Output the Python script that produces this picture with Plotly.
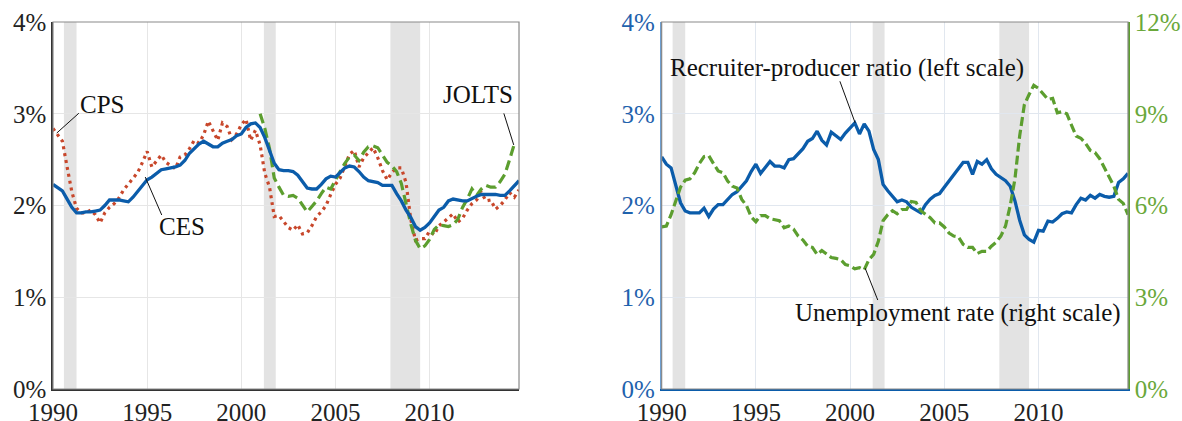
import plotly.graph_objects as go

# ---------------- data (quarterly, 1990Q1 .. 2014Q4) ----------------
quarters = [1990 + i / 4 for i in range(100)]

ces = [2.23, 2.19, 2.16, 2.07, 1.98, 1.92, 1.92, 1.93, 1.93, 1.94, 1.95, 2.00,
       2.06, 2.06, 2.06, 2.05, 2.04, 2.09, 2.15, 2.22, 2.28, 2.31, 2.35, 2.39,
       2.40, 2.41, 2.42, 2.44, 2.49, 2.57, 2.62, 2.67, 2.70, 2.67, 2.64, 2.64,
       2.68, 2.70, 2.72, 2.76, 2.78, 2.85, 2.89, 2.90, 2.85, 2.74, 2.60, 2.46,
       2.39, 2.38, 2.38, 2.37, 2.33, 2.26, 2.19, 2.18, 2.18, 2.23, 2.29, 2.32,
       2.31, 2.36, 2.41, 2.43, 2.42, 2.37, 2.31, 2.27, 2.26, 2.25, 2.22, 2.22,
       2.22, 2.13, 2.05, 1.95, 1.87, 1.77, 1.73, 1.76, 1.81, 1.88, 1.95, 1.98,
       2.05, 2.07, 2.06, 2.05, 2.05, 2.08, 2.10, 2.12, 2.12, 2.12, 2.12, 2.11,
       2.11, 2.16, 2.22, 2.27]

cps = [2.84, 2.77, 2.70, 2.42, 2.15, 1.97, 1.92, 1.92, 1.95, 1.90, 1.81, 1.92,
       1.98, 2.02, 2.08, 2.17, 2.23, 2.29, 2.36, 2.47, 2.59, 2.42, 2.48, 2.55,
       2.47, 2.43, 2.40, 2.53, 2.55, 2.62, 2.71, 2.68, 2.77, 2.92, 2.82, 2.71,
       2.90, 2.86, 2.72, 2.78, 2.88, 2.94, 2.71, 2.82, 2.66, 2.35, 2.20, 1.88,
       1.89, 1.82, 1.76, 1.73, 1.79, 1.69, 1.70, 1.78, 1.88, 1.93, 2.00, 2.12,
       2.23, 2.30, 2.42, 2.56, 2.60, 2.42, 2.52, 2.58, 2.63, 2.52, 2.38, 2.28,
       2.36, 2.41, 2.41, 2.25, 1.85, 1.62, 1.64, 1.64, 1.72, 1.68, 1.78, 1.82,
       1.87, 1.91, 1.82, 1.86, 1.95, 2.02, 2.06, 2.14, 2.05, 2.06, 1.96, 2.00,
       2.06, 2.14, 2.09, 2.17]

jolts_quarters = [2001 + i / 4 for i in range(55)]
jolts = [3.00, 2.84, 2.62, 2.30, 2.20, 2.11, 2.10, 2.11, 2.08, 2.01, 1.93, 1.99,
         2.05, 2.13, 2.20, 2.18, 2.28, 2.37, 2.46, 2.53, 2.55, 2.49, 2.58, 2.64,
         2.65, 2.63, 2.55, 2.47, 2.43, 2.37, 2.24, 2.02, 1.80, 1.62, 1.53, 1.56,
         1.63, 1.74, 1.79, 1.78, 1.77, 1.79, 1.85, 1.98, 2.07, 2.18, 2.11, 2.18,
         2.22, 2.20, 2.20, 2.26, 2.34, 2.50, 2.67]

recruiter = [2.53, 2.45, 2.41, 2.22, 2.03, 1.94, 1.92, 1.92, 1.92, 1.97, 1.88, 1.96,
             2.01, 2.01, 2.06, 2.12, 2.15, 2.21, 2.27, 2.37, 2.45, 2.35, 2.41, 2.48,
             2.43, 2.43, 2.41, 2.50, 2.51, 2.56, 2.62, 2.70, 2.73, 2.81, 2.71, 2.66,
             2.80, 2.76, 2.72, 2.79, 2.84, 2.90, 2.78, 2.89, 2.81, 2.61, 2.50, 2.23,
             2.16, 2.10, 2.04, 2.06, 2.04, 1.98, 1.95, 1.92, 2.01, 2.07, 2.11, 2.13,
             2.20, 2.27, 2.34, 2.40, 2.47, 2.47, 2.34, 2.48, 2.45, 2.50, 2.40, 2.34,
             2.30, 2.27, 2.21, 2.05, 1.84, 1.68, 1.63, 1.60, 1.73, 1.72, 1.83, 1.82,
             1.86, 1.91, 1.93, 1.92, 2.01, 2.08, 2.06, 2.11, 2.08, 2.12, 2.10, 2.09,
             2.10, 2.25, 2.29, 2.35]

unemployment = [5.30, 5.33, 5.70, 6.13, 6.60, 6.83, 6.87, 7.07, 7.37, 7.60, 7.63, 7.37,
                7.13, 7.07, 6.80, 6.63, 6.57, 6.20, 6.00, 5.63, 5.47, 5.67, 5.67, 5.57,
                5.53, 5.50, 5.27, 5.33, 5.23, 5.00, 4.87, 4.67, 4.63, 4.40, 4.53, 4.43,
                4.30, 4.27, 4.23, 4.07, 4.03, 3.93, 3.97, 3.90, 4.23, 4.40, 4.83, 5.50,
                5.70, 5.83, 5.73, 5.87, 5.87, 6.13, 6.10, 5.83, 5.70, 5.60, 5.43, 5.43,
                5.30, 5.10, 5.00, 4.97, 4.73, 4.63, 4.63, 4.43, 4.50, 4.50, 4.67, 4.80,
                5.00, 5.33, 6.00, 6.87, 8.27, 9.30, 9.63, 9.93, 9.83, 9.63, 9.47, 9.50,
                9.03, 9.07, 9.00, 8.63, 8.27, 8.20, 8.03, 7.80, 7.73, 7.53, 7.23, 6.93,
                6.63, 6.20, 6.07, 5.70]

recessions = [(1990.58, 1991.25), (2001.2, 2001.83), (2007.92, 2009.5)]

x_ticks = [1990, 1995, 2000, 2005, 2010]
x_ticktext = ["1990", "1995", "2000", "2005", "2010"]
left_ticks = [0, 1, 2, 3, 4]
left_ticktext = ["0%", "1%", "2%", "3%", "4%"]
right_ticks = [0, 3, 6, 9, 12]
right_ticktext = ["0%", "3%", "6%", "9%", "12%"]

# label texts (anchor positions in data coords) and leader lines (tail -> tip)
labels = [
    # text, xref, yref, x, y
    ("CPS", "x", "y", 1992.59, 3.10),
    ("CES", "x", "y", 1996.86, 1.77),
    ("JOLTS", "x", "y", 2012.57, 3.21),
    ("Recruiter-producer ratio (left scale)", "x2", "y3", 1999.82, 3.50),
    ("Unemployment rate (right scale)", "x2", "y3", 2005.71, 0.826),
]
leaders = [
    # xref, yref, tail_x, tail_y, tip_x, tip_y
    ("x", "y", 1991.45, 3.02, 1990.2, 2.79),
    ("x", "y", 1995.81, 1.88, 1994.9, 2.31),
    ("x", "y", 2013.92, 3.02, 2014.47, 2.66),
    ("x2", "y3", 1999.43, 3.37, 2000.27, 2.90),
    ("x2", "y4", 2001.50, 2.86, 2000.80, 3.95),
]

# ---------------- styling ----------------
BLUE = "#0b5caa"
RED = "#c8472b"
GREEN = "#5c9e2f"
FONT = "Liberation Serif"
FS = 25

fig = go.Figure()

# left panel
fig.add_trace(go.Scatter(x=quarters, y=cps, mode="lines", name="CPS",
                         line=dict(color=RED, width=3.2, dash="3px,4px"),
                         xaxis="x", yaxis="y"))
fig.add_trace(go.Scatter(x=jolts_quarters, y=jolts, mode="lines", name="JOLTS",
                         line=dict(color=GREEN, width=3.2, dash="10px,5px"),
                         xaxis="x", yaxis="y"))
fig.add_trace(go.Scatter(x=quarters, y=ces, mode="lines", name="CES",
                         line=dict(color=BLUE, width=3.3),
                         xaxis="x", yaxis="y"))

# right panel
fig.add_trace(go.Scatter(x=quarters, y=unemployment, mode="lines", name="Unemployment rate",
                         line=dict(color=GREEN, width=3.2, dash="9px,4px"),
                         xaxis="x2", yaxis="y4"))
fig.add_trace(go.Scatter(x=quarters, y=recruiter, mode="lines", name="Recruiter-producer ratio",
                         line=dict(color=BLUE, width=3.3),
                         xaxis="x2", yaxis="y3"))

shapes = []
for (a, b) in recessions:
    for xr, yr in (("x", "y domain"), ("x2", "y3 domain")):
        shapes.append(dict(type="rect", xref=xr, yref=yr, x0=a, x1=b, y0=0, y1=1,
                           fillcolor="#e3e3e3", line=dict(width=0), layer="below"))
# frames
shapes.append(dict(type="rect", xref="x domain", yref="y domain", x0=0, x1=1, y0=0, y1=1,
                   line=dict(color="#8a8a8a", width=1.2), fillcolor="rgba(0,0,0,0)", layer="above"))
shapes.append(dict(type="rect", xref="x2 domain", yref="y3 domain", x0=0, x1=1, y0=0, y1=1,
                   line=dict(color="#8a8a8a", width=1.2), fillcolor="rgba(0,0,0,0)", layer="above"))

tickfont = dict(family=FONT, size=FS, color="#222222")
ann_font = dict(family=FONT, size=FS, color="#111111")

annotations = []
for (txt, xr, yr, x, y) in labels:
    annotations.append(dict(text=txt, x=x, y=y, xref=xr, yref=yr, showarrow=False,
                            font=ann_font, xanchor="center", yanchor="middle"))
for (xr, yr, tx, ty, hx, hy) in leaders:
    annotations.append(dict(text="", x=hx, y=hy, xref=xr, yref=yr, ax=tx, ay=ty,
                            axref=xr, ayref=yr, showarrow=True, arrowhead=0,
                            arrowwidth=1, arrowcolor="#111111", standoff=0, startstandoff=0))

fig.update_layout(
    template="none",
    width=1182, height=421,
    margin=dict(l=53, r=54, t=22, b=32, autoexpand=False),
    paper_bgcolor="white", plot_bgcolor="white",
    showlegend=False,
    font=dict(family=FONT, size=FS, color="#222"),
    xaxis=dict(domain=[0, 0.4335], range=[1990, 2014.75], tickvals=x_ticks, ticktext=x_ticktext,
               showgrid=True, gridcolor="#e6e6e6", gridwidth=1, zeroline=False, automargin=False,
               showline=True, linecolor="#333333", linewidth=1.5, ticks="", tickfont=tickfont,
               anchor="y"),
    yaxis=dict(domain=[0, 1], range=[0, 4], tickvals=left_ticks, ticktext=left_ticktext,
               showgrid=True, gridcolor="#e6e6e6", gridwidth=1, zeroline=False, automargin=False,
               showline=True, linecolor="#333333", linewidth=1.5, ticks="", tickfont=tickfont,
               anchor="x"),
    xaxis2=dict(domain=[0.5662, 1], range=[1990, 2014.75], tickvals=x_ticks, ticktext=x_ticktext,
                showgrid=True, gridcolor="#e1e7ef", gridwidth=1, zeroline=False, automargin=False,
                showline=True, linecolor=BLUE, linewidth=1.5, ticks="", tickfont=tickfont,
                anchor="y3"),
    yaxis3=dict(domain=[0, 1], range=[0, 4], tickvals=left_ticks, ticktext=left_ticktext,
                showgrid=True, gridcolor="#e1e7ef", gridwidth=1, zeroline=False, automargin=False,
                showline=True, linecolor="#6f9fd0", linewidth=1.5, ticks="",
                tickfont=dict(family=FONT, size=FS, color="#1f62ad"), anchor="x2"),
    yaxis4=dict(range=[0, 12], tickvals=right_ticks, ticktext=right_ticktext,
                overlaying="y3", side="right", anchor="x2", automargin=False,
                showgrid=False, zeroline=False,
                showline=True, linecolor=GREEN, linewidth=1.5, ticks="",
                tickfont=dict(family=FONT, size=FS, color="#6aa83a")),
    shapes=shapes,
    annotations=annotations,
)

fig.write_html("out.html",
               config={"displayModeBar": False},
               post_script="document.body.style.margin='0px';document.body.style.overflow='hidden';")
